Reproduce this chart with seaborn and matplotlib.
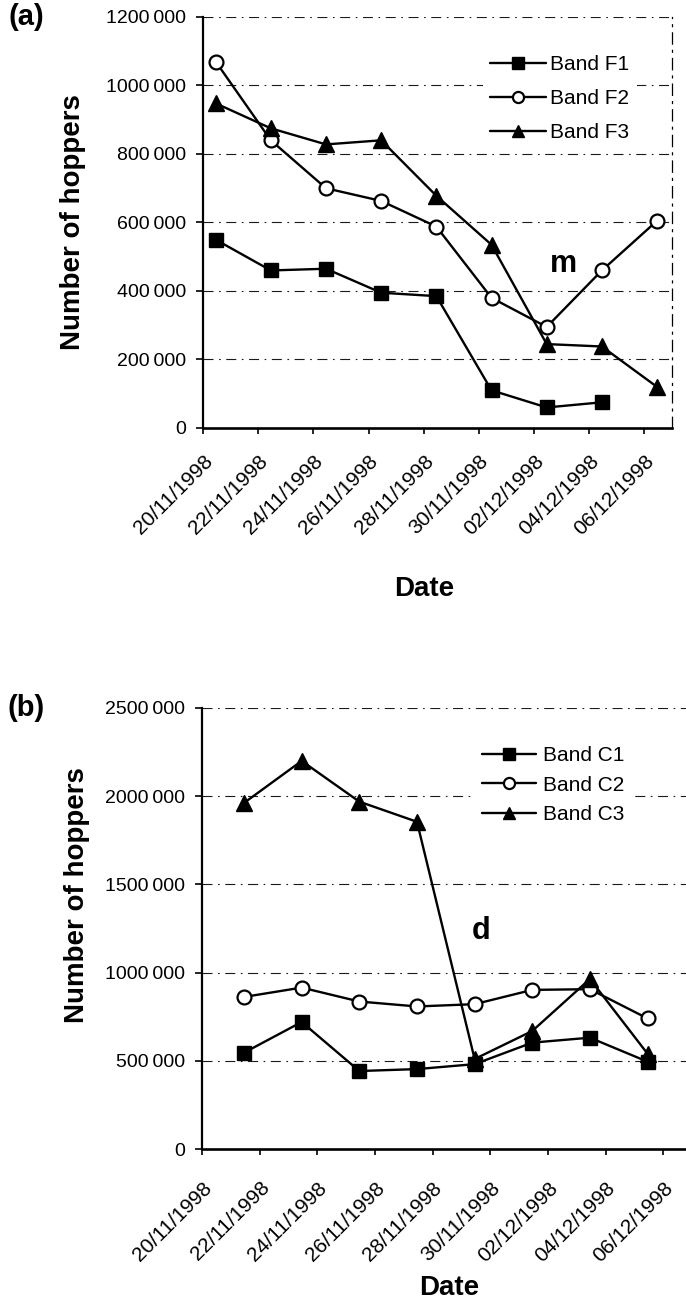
import numpy as np
import pandas as pd
import matplotlib
matplotlib.use("Agg")
import matplotlib.pyplot as plt
import matplotlib.dates as mdates
from matplotlib.ticker import FuncFormatter, FixedLocator
import seaborn as sns

# ---------------- data ----------------
dates_a = ["20/11/1998", "22/11/1998", "24/11/1998", "26/11/1998", "28/11/1998",
           "30/11/1998", "02/12/1998", "04/12/1998", "06/12/1998"]
band_f1 = [550000, 460000, 465000, 395000, 385000, 110000, 60000, 75000]
band_f2 = [1070000, 840000, 700000, 663000, 588000, 380000, 295000, 460000, 605000]
band_f3 = [948000, 875000, 828000, 840000, 678000, 535000, 245000, 238000, 120000]

dates_b = ["21/11/1998", "23/11/1998", "25/11/1998", "27/11/1998", "29/11/1998",
           "01/12/1998", "03/12/1998", "05/12/1998"]
band_c1 = [546000, 720000, 442000, 453000, 481000, 603000, 631000, 495000]
band_c2 = [862000, 915000, 836000, 808000, 821000, 902000, 906000, 740000]
band_c3 = [1962000, 2200000, 1969000, 1855000, 510000, 669000, 964000, 540000]

tick_dates = ["20/11/1998", "22/11/1998", "24/11/1998", "26/11/1998", "28/11/1998",
              "30/11/1998", "02/12/1998", "04/12/1998", "06/12/1998"]
labels_a = ["Band F1", "Band F2", "Band F3"]
labels_b = ["Band C1", "Band C2", "Band C3"]
yticks_a = [0, 200000, 400000, 600000, 800000, 1000000, 1200000]
yticks_b = [0, 500000, 1000000, 1500000, 2000000, 2500000]

# sampling time of day (points sit a bit after the date tick)
offset = pd.Timedelta(hours=11)

sns.set_style("ticks")
plt.rcParams["font.family"] = ["Liberation Sans", "DejaVu Sans"]
plt.rcParams["text.color"] = "black"
plt.rcParams["axes.labelcolor"] = "black"
plt.rcParams["xtick.color"] = "black"
plt.rcParams["ytick.color"] = "black"
plt.rcParams["axes.edgecolor"] = "black"

W, H = 686, 1300
fig = plt.figure(figsize=(W / 100, H / 100), dpi=100)

def frac_box(l, t, r, b):
    return [l / W, 1 - b / H, (r - l) / W, (b - t) / H]

ax_a = fig.add_axes(frac_box(203, 17, 672, 428))
ax_b = fig.add_axes(frac_box(202, 708, 692, 1149))

def ylab(v, pos):
    v = int(round(v))
    if v < 1000:
        return str(v)
    return f"{v // 1000}\u2009{v % 1000:03d}"

marker_styles = [
    dict(marker="s", markersize=10, markerfacecolor="black", markeredgecolor="black", markeredgewidth=1),
    dict(marker="o", markersize=10, markerfacecolor="white", markeredgecolor="black", markeredgewidth=1.6),
    dict(marker="^", markersize=11, markerfacecolor="black", markeredgecolor="black", markeredgewidth=1),
]

def draw_panel(ax, dates, series, labels, yticks, ymax, tick_pad):
    d = pd.to_datetime(dates, format="%d/%m/%Y") + offset
    for vals, lab, ms in zip(series, labels, marker_styles):
        sns.lineplot(x=d[:len(vals)], y=vals, ax=ax, color="black", linewidth=1.7,
                     label=lab, **ms)
    ax.set_ylim(0, ymax)
    ax.set_xlim(pd.Timestamp("1998-11-20"), pd.Timestamp("1998-12-07"))
    ax.yaxis.set_major_locator(FixedLocator(yticks))
    ax.yaxis.set_major_formatter(FuncFormatter(ylab))
    td = pd.to_datetime(tick_dates, format="%d/%m/%Y")
    ax.set_xticks(td)
    ax.xaxis.set_major_formatter(mdates.DateFormatter("%d/%m/%Y"))
    for lab in ax.get_xticklabels():
        lab.set_rotation(45)
        lab.set_ha("right")
        lab.set_rotation_mode("anchor")
    ax.tick_params(axis="x", direction="out", length=4, width=1.2, labelsize=15, pad=tick_pad, colors="black")
    ax.tick_params(axis="y", direction="out", length=5, width=1.2, labelsize=14, pad=7, colors="black")
    for yv in yticks[1:]:
        ax.axhline(yv, color="0.1", linewidth=0.8, linestyle=(0, (9, 5, 1.5, 5)), zorder=0)
    ax.spines["left"].set_linewidth(1.6)
    ax.spines["bottom"].set_linewidth(1.9)
    ax.spines["top"].set_visible(False)
    ax.set_xlabel("Date", fontsize=20, fontweight="bold")
    ax.set_ylabel("Number of hoppers", fontsize=20, fontweight="bold")

draw_panel(ax_a, dates_a, [band_f1, band_f2, band_f3], labels_a, yticks_a, 1200000, 13)
draw_panel(ax_b, dates_b, [band_c1, band_c2, band_c3], labels_b, yticks_b, 2500000, 17)

# right border of panel (a) drawn dash-dot as in the scan
ax_a.spines["right"].set_visible(True)
ax_a.spines["right"].set_linestyle((0, (9, 5, 1.5, 5)))
ax_a.spines["right"].set_linewidth(0.9)
ax_b.spines["right"].set_visible(False)

ax_a.yaxis.set_label_coords(-0.249, 0.5)
ax_b.yaxis.set_label_coords(-0.229, 0.576)
ax_a.xaxis.set_label_coords(0.471, -0.36)
ax_b.xaxis.set_label_coords(0.504, -0.285)

leg_kw = dict(loc="upper left", frameon=True, facecolor="white", edgecolor="none",
              framealpha=1, fancybox=False, fontsize=15, borderaxespad=0)
leg_a = ax_a.legend(bbox_to_anchor=(0.596, 0.925), handlelength=2.7, handletextpad=0.2,
                    labelspacing=0.72, borderpad=0.35, **leg_kw)
leg_b = ax_b.legend(bbox_to_anchor=(0.557, 0.93), handlelength=2.6, handletextpad=0.3,
                    labelspacing=0.5, borderpad=0.35, **leg_kw)
for leg in (leg_a, leg_b):
    for h in leg.legend_handles:
        h.set_markersize(8)

ax_a.text(0.768, 0.40, "m", transform=ax_a.transAxes, fontsize=22, fontweight="bold",
          ha="center", va="center")
ax_b.text(0.569, 0.495, "d", transform=ax_b.transAxes, fontsize=22, fontweight="bold",
          ha="center", va="center")

fig.text(26 / W, 1 - 17 / H, "(a)", fontsize=21, fontweight="bold", ha="center", va="center")
fig.text(26 / W, 1 - 708 / H, "(b)", fontsize=21, fontweight="bold", ha="center", va="center")

fig.savefig("out.png", dpi=100)
